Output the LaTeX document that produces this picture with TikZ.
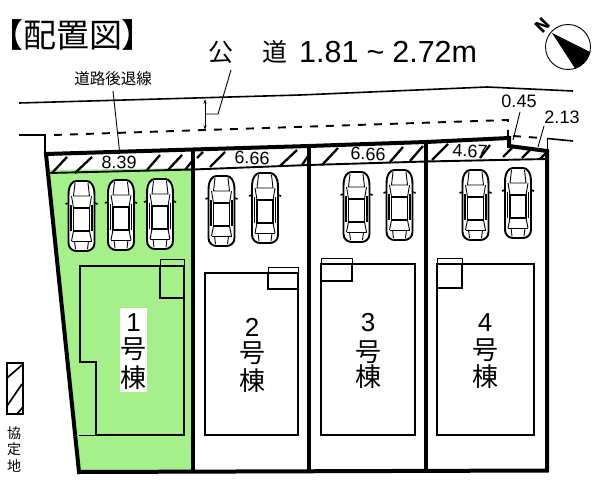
\documentclass[tikz,border=0pt]{standalone}
\usepackage{fontspec}
\setmainfont{Noto Sans CJK JP}
\newfontfamily\latinfont{Liberation Sans}
\usetikzlibrary{arrows.meta}
\definecolor{lotgreen}{HTML}{A6F08C}
\tikzset{
  lot/.style={line width=4pt,line join=miter},
  strip/.style={line width=1.9pt},
  hatch/.style={line width=2.3pt},
  thinl/.style={line width=0.9pt},
  bld/.style={line width=1.9pt},
  road/.style={line width=1.6pt},
  roaddash/.style={line width=1.9pt,dash pattern=on 8pt off 8pt},
  dim/.style={font=\fontsize{18}{18}\selectfont\latinfont,inner sep=0pt},
  house/.style={font=\fontsize{26}{26}\selectfont,inner sep=0pt},
  pics/carpic/.style={code={
    \draw[line width=1.9pt,fill=white] (-13,14) .. controls (-13,4) and (-9,0) .. (-5,0) -- (5,0) .. controls (9,0) and (13,4) .. (13,14) -- (13,62) .. controls (13,67) and (9,70) .. (5,70) -- (-5,70) .. controls (-9,70) and (-13,67) .. (-13,62) -- cycle;
    \draw[line width=1.6pt] (-13,22)--(-16,23) (13,22)--(16,23);
    \draw[line width=0.9pt] (-6.5,2)--(-8,15)--(8,15)--(6.5,2);
    \draw[line width=1.1pt] (-8,27)--(8,27)--(8,50)--(-8,50)--cycle;
    \draw[line width=0.9pt] (-10,15)--(-8,27) (10,15)--(8,27) (-10,60)--(-8,50) (10,60)--(8,50);
    \draw[line width=1pt] (-10,60)--(10,60);
    \draw[line width=1.8pt] (-10.5,24)--(-10.5,50) (10.5,24)--(10.5,50);
    \draw[line width=0.9pt] (-7,60)--(-6,68) (7,60)--(6,68);
  }}
}
\begin{document}
\begin{tikzpicture}[x=1pt,y=-1pt]
\useasboundingbox (0,0) rectangle (600,487);
% green lot
\fill[lotgreen] (49,170)--(193,168)--(193,470)--(79,470)--cycle;
% title
\node[inner sep=0pt,anchor=west,font=\fontsize{33}{33}\selectfont\addfontfeature{RawFeature=+palt}] (title) at (6.5,35) {【配置図】};
\node[inner sep=0pt,font=\fontsize{25}{25}\selectfont] (koh) at (221,52) {公};
\node[inner sep=0pt,font=\fontsize{25}{25}\selectfont] (doh) at (274.5,52) {道};
\node[inner sep=0pt,anchor=west,font=\fontsize{30.5}{30.5}\selectfont\latinfont] (width) at (299,52) {1.81\kern8pt\char"007E\kern8pt 2.72m};
\node[inner sep=0pt,font=\fontsize{15.5}{15.5}\selectfont] (setback) at (113,79) {道路後退線};
% road lines
\draw[road] (19,103)--(300,95)--(487,87)--(573,91);
\draw[road] (19,135)--(45,135)--(45,154);
\draw[roaddash] (54,135)--(508,120)--(508,138);
\draw[roaddash] (513,136)--(541,138);
\draw[road] (547,138.5)--(573,141);
\draw[thinl] (547,139)--(547,151);
% leaders
\coordinate (setbackEnd) at (119.5,151);
\coordinate (setbackStart) at (113,91);
\draw[thinl] (setbackStart)--(setbackEnd);
\coordinate (arrTop) at (205,99);
\coordinate (arrBot) at (205,130);
\draw[thinl,{Stealth[length=5pt,width=3pt]}-{Stealth[length=5pt,width=3pt]}] (arrTop)--(arrBot);
\coordinate (kohLeadA) at (231,70);
\coordinate (kohLeadB) at (218,114);
\coordinate (kohLeadC) at (205.5,114);
\draw[thinl] (kohLeadA)--(kohLeadB)--(kohLeadC);
% hatching
\foreach \a/\b/\c/\d in {52/173/67/157,75/173/92/157,147/170/160/155,168/170/182/155,185/170/193/160,
 197/158/203/152,210/167/225/152,280/166/297/150,302/165/308/156,322/165/338/148,
 390/162/403/147,410/161/423/146,432/160/448/144,480/158/490/145,503/157/512/148,522/158/530/150,540/159/546/153}
  \draw[hatch] (\a,\b)--(\c,\d);
% strip lower line
\draw[strip] (49,173)--(193,169.5)--(309,165)--(426,161.5)--(547,159);
% lots outline
\draw[lot] (46,154)--(193,149.5)--(309,146)--(426,142)--(509,138)--(509,146)--(547,151)--(547,470.5)--(79,472)--cycle;
\draw[lot] (193,149.5)--(193,471.5) (309,146)--(309,471) (426,142)--(426,470.5);
% buildings
\draw[bld] (80,266)--(184,266)--(184,435)--(96,435)--(96,362)--(80,362)--cycle;
\draw[thinl] (78.5,435)--(96,435);
\draw[bld] (160,266)--(160,298)--(184,298);
\draw[thinl] (160,266)--(160,259)--(184.5,259)--(184.5,266);
\draw[bld] (205,273)--(298,273)--(298,435)--(205,435)--cycle;
\draw[bld] (268,273)--(268,289)--(298,289);
\draw[thinl] (268,273)--(268,267)--(298,267)--(298,273);
\draw[bld] (321,264)--(415,264)--(415,435)--(321,435)--cycle;
\draw[bld] (321,281)--(352,281)--(352,264);
\draw[thinl] (321,264)--(321,258)--(352,258)--(352,264);
\draw[bld] (437,264)--(534,264)--(534,435)--(437,435)--cycle;
\draw[bld] (437,288)--(462,288)--(462,264);
\draw[thinl] (437,264)--(437,258)--(462,258)--(462,264);
% cars
\foreach \x/\y in {81.5/181,121/180,160/179,221.5/176,265/173,356.5/172,399.5/170,475.5/170,518/168}
  \pic at (\x,\y) {carpic};
% house labels
\node[fill=white,minimum width=27pt,minimum height=84pt,inner sep=0pt] (whitepatch) at (133.5,350) {};
\foreach \nm/\x/\d/\ya/\yb/\yc in {one/133.5/1/323/349/378,two/252/2/327/353/381,three/368/3/323/352/377,four/485/4/323/350/377}{
  \node[house,font=\fontsize{26}{26}\selectfont\latinfont] (num\nm) at (\x,\ya) {\d};
  \node[house] (gou\nm) at (\x,\yb) {号};
  \node[house] (tou\nm) at (\x,\yc) {棟};
}
% dimensions
\node[dim,rotate=-2] (d839) at (119,162.5) {8.39};
\node[dim,rotate=-2] (d666a) at (252,158) {6.66};
\node[dim,rotate=-2] (d666b) at (368,154) {6.66};
\node[dim,rotate=-2] (d467) at (470,151) {4.67};
\node[dim] (d045) at (519,101) {0.45};
\node[dim] (d213) at (562,117) {2.13};
\coordinate (d045a) at (520,112);
\coordinate (d045b) at (513,140);
\coordinate (d213a) at (544,126);
\coordinate (d213b) at (538,147);
\draw[thinl] (d045a)--(d045b);
\draw[thinl] (d213a)--(d213b);
% compass
\node[circle,draw,line width=0.9pt,minimum size=45pt,inner sep=0pt] (compass) at (568,47) {};
\fill (552,33)--(590,52) arc[start angle=13,end angle=72,radius=22.5] -- cycle;
\node[inner sep=0pt,rotate=45,font=\fontsize{17}{17}\selectfont\bfseries] (north) at (543,25) {N};
% legend
\node[draw,line width=1.9pt,minimum width=16pt,minimum height=51pt,inner sep=0pt] (legend) at (15,388.5) {};
\draw[line width=1.7pt] (7,378)--(22,365) (7,406)--(22,384) (17,414)--(23,407);
\node[inner sep=0pt,align=center,font=\fontsize{14}{16.5}\selectfont] (kyotei) at (14,449.5) {協\\定\\地};
\end{tikzpicture}
\end{document}
